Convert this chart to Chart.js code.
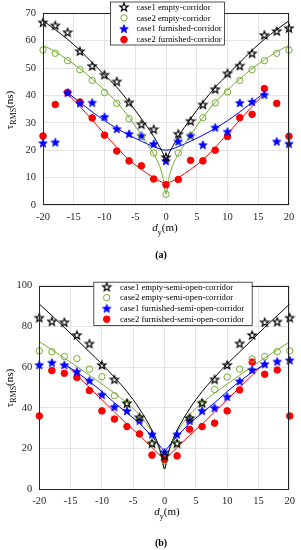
<!DOCTYPE html>
<html>
<head>
<meta charset="utf-8">
<script src="https://cdn.jsdelivr.net/npm/chart.js@4.4.1/dist/chart.umd.min.js"></script>
<style>
  html, body { margin: 0; padding: 0; background: #fff; }
  #wrap { position: relative; width: 301px; height: 550px; }
  canvas { position: absolute; left: 0; }
  #chartA { top: 0; }
  #chartB { top: 270px; }
</style>
</head>
<body>
<div id="wrap">
  <canvas id="chartA" width="301" height="270"></canvas>
  <canvas id="chartB" width="301" height="280"></canvas>
</div>
<script>
// measurement positions (m)
const dy = [-20, -18, -16, -14, -12, -10, -8, -6, -4, -2, 0, 2, 4, 6, 8, 10, 12, 14, 16, 18, 20];
const fitWide  = [-20, -18, -16, -14, -12, -10, -8, -6, -4, -2, -1, -0.5, 0, 0.5, 1, 2, 4, 6, 8, 10, 12, 14, 16, 18, 20];
const fitShort = [-16, -14, -12, -10, -8, -6, -4, -2, 0, 2, 4, 6, 8, 10, 12, 14, 16];

const xTicks  = [-20, -15, -10, -5, 0, 5, 10, 15, 20];
const yTicksA = [0, 10, 20, 30, 40, 50, 60, 70];
const yTicksB = [0, 20, 40, 60, 80, 100];

const labelsA = ['case1 empty-corridor', 'case2 empty-corridor', 'case1 furnished-corridor', 'case2 furnished-corridor'];
const labelsB = ['case1 empty-semi-open-corridor', 'case2 empty-semi-open-corridor', 'case1 furnished-semi-open-corridor', 'case2 furnished-semi-open-corridor'];

// (a) corridor, measured tau_RMS (ns)
const aEmpty1 = [66.7, 65.6, 63.1, 56.2, 50.8, 47.6, 45.1, 37.5, 29.5, 27.7, 17.5, 26.0, 30.7, 36.7, 42.3, 48.1, 50.9, 55.4, 62.1, 63.5, 64.6];
const aEmpty2 = [56.6, 55.4, 52.7, 49.4, 45.5, 41.1, 37.1, 31.5, 25.1, 19.0, 3.9, 19.0, 25.3, 31.9, 37.3, 41.3, 45.5, 49.4, 52.7, 55.4, 56.6];
const aFurn1  = [22.6, 22.9, 41.0, 37.2, 37.4, 32.2, 27.8, 26.0, 25.3, 22.3, 16.1, 23.2, 25.3, 22.0, 28.3, 26.8, 37.3, 37.7, 40.3, 23.2, 22.4];
const aFurn2  = [25.2, 36.7, 41.1, 37.6, 31.8, 25.5, 19.7, 16.1, 14.3, 9.5, 7.4, 9.3, 16.3, 16.1, 20.0, 25.0, 31.9, 33.1, 42.5, 37.1, 25.1];
// (a) fitted curves
const aFitEmpty1 = [67.3, 64, 60.5, 56.5, 52, 47.5, 43, 37.5, 31.5, 25, 21, 19, 16.5, 19, 21, 25, 31.5, 37.5, 43, 47.5, 52, 56.5, 60.5, 64, 67.3];
const aFitEmpty2 = [58.3, 56, 53, 49.8, 46, 42, 37.5, 32, 25.5, 18.5, 14, 10, 4, 10, 14, 18.5, 25.5, 32, 37.5, 42, 46, 49.8, 53, 56, 58.3];
const aFitFurn1  = [41, 37.5, 34, 30.8, 28, 25.5, 23.3, 21.3, 20, 21.3, 23.3, 25.5, 28, 30.8, 34, 37.5, 41];
const aFitFurn2  = [40.5, 36, 31, 26, 21, 16.5, 13, 10, 8, 10, 13, 16.5, 21, 26, 31, 36, 40.5];

// (b) semi-open corridor, measured tau_RMS (ns)
const bEmpty1 = [84.3, 82.5, 82.1, 75.8, 71.6, 61.1, 54.0, 42.3, 35.4, 22.6, 16.5, 22.6, 35.0, 42.5, 54.0, 61.1, 71.7, 75.8, 82.1, 82.4, 84.3];
const bEmpty2 = [68.0, 67.6, 65.2, 64.2, 59.0, 55.3, 46.0, 42.5, 35.0, 22.6, 14.0, 22.6, 35.0, 42.5, 49.0, 55.2, 59.0, 64.0, 65.2, 67.6, 68.0];
const bFurn1  = [61.1, 62.2, 61.1, 57.8, 53.4, 46.5, 40.5, 38.5, 33.7, 27.0, 18.2, 27.0, 33.7, 38.6, 40.0, 45.5, 53.1, 58.6, 61.5, 62.8, 63.4];
const bFurn2  = [36.0, 58.3, 57.0, 54.9, 48.5, 38.5, 34.5, 30.8, 27.2, 16.8, 14.7, 16.4, 29.5, 30.8, 32.5, 38.5, 48.8, 62.5, 56.5, 58.6, 36.0];
// (b) fitted curves
const bFitEmpty1 = [91, 85.3, 79.5, 73.5, 67.5, 61.5, 55, 48, 39.5, 29, 22, 17, 10, 17, 22, 29, 39.5, 48, 55, 61.5, 67.5, 73.5, 79.5, 85.3, 91];
const bFitEmpty2 = [72.5, 68.5, 64.5, 60.3, 56, 51.7, 47.2, 42.5, 36.5, 28, 21, 16, 10, 16, 21, 28, 36.5, 42.5, 47.2, 51.7, 56, 60.3, 64.5, 68.5, 72.5];
const bFitFurn1  = [61.5, 57.5, 53, 48, 42.5, 37.5, 32.5, 26, 18.5, 26, 32.5, 37.5, 42.5, 48, 53, 57.5, 61.5];
const bFitFurn2  = [62, 56, 50, 44, 38, 32, 26.5, 20.5, 14.5, 20.5, 26.5, 32, 38, 44, 50, 56, 62];

const GREEN = '#77ac30';
const FONT = 'Liberation Serif';
const gridColor = '#e4e4e4';
const axisColor = '#262626';

function pts(xs, ys) {
    return xs.map((x, i) => ({ x: x, y: ys[i] }));
}

// pentagram marker as a small canvas
function starImg(color, filled, R) {
    const s = 12;
    const c = document.createElement('canvas');
    c.width = s; c.height = s;
    const g = c.getContext('2d');
    const cx = s / 2, cy = s / 2 + 0.4, r = R * 0.42;
    g.beginPath();
    for (let i = 0; i < 10; i++) {
        const a = -Math.PI / 2 + i * Math.PI / 5;
        const rr = i % 2 ? r : R;
        g.lineTo(cx + rr * Math.cos(a), cy + rr * Math.sin(a));
    }
    g.closePath();
    if (filled) { g.fillStyle = color; g.fill(); }
    g.strokeStyle = color;
    g.lineWidth = filled ? 0.8 : 1.2;
    g.stroke();
    return c;
}
const starBlack = starImg('#000', false, 4.3);
const starBlue  = starImg('#0000ff', true, 4.5);

const markerStyles = [
    { pointStyle: starBlack, pointRadius: 6, pointBorderColor: '#000', pointBackgroundColor: '#000', pointBorderWidth: 1 },
    { pointStyle: 'circle', pointRadius: 3.2, pointBorderColor: GREEN, pointBackgroundColor: 'rgba(0,0,0,0)', pointBorderWidth: 1 },
    { pointStyle: starBlue, pointRadius: 6, pointBorderColor: '#0000ff', pointBackgroundColor: '#0000ff', pointBorderWidth: 1 },
    { pointStyle: 'circle', pointRadius: 3.3, pointBorderColor: '#ff0000', pointBackgroundColor: '#ff0000', pointBorderWidth: 1 }
];
const lineColors = ['#000', GREEN, '#0000ff', '#ff0000'];

function drawParts(ctx, parts, x, y) {
    let w = 0;
    parts.forEach(p => { ctx.font = p.font; w += ctx.measureText(p.t).width; });
    let cx = x - w / 2;
    parts.forEach(p => {
        ctx.font = p.font;
        ctx.fillText(p.t, cx, y + (p.dy || 0));
        cx += ctx.measureText(p.t).width;
    });
}

const decor = {
    id: 'decor',
    afterDraw(chart, args, o) {
        const ctx = chart.ctx;
        const a = chart.chartArea;
        ctx.save();
        // axes box
        ctx.strokeStyle = axisColor;
        ctx.lineWidth = 1;
        ctx.strokeRect(Math.round(a.left) + 0.5, Math.round(a.top) + 0.5,
            Math.round(a.right - a.left) - 1, Math.round(a.bottom - a.top) - 1);

        // legend box
        const L = o.legend;
        ctx.fillStyle = '#fff';
        ctx.fillRect(L.x, L.y, L.w, L.h);
        ctx.strokeStyle = axisColor;
        ctx.lineWidth = 0.8;
        ctx.strokeRect(L.x + 0.5, L.y + 0.5, L.w, L.h);
        ctx.textBaseline = 'middle';
        ctx.textAlign = 'left';
        o.labels.forEach((t, i) => {
            const y = L.row0 + i * L.step;
            const m = markerStyles[i];
            if (m.pointStyle === 'circle') {
                ctx.beginPath();
                ctx.arc(L.mx, y, m.pointRadius, 0, Math.PI * 2);
                if (i === 3) { ctx.fillStyle = m.pointBackgroundColor; ctx.fill(); }
                ctx.strokeStyle = m.pointBorderColor;
                ctx.lineWidth = 1;
                ctx.stroke();
            } else {
                ctx.drawImage(m.pointStyle, L.mx - 6, y - 6);
            }
            ctx.fillStyle = '#000';
            ctx.font = '8.7px ' + FONT;
            ctx.fillText(t, L.tx, y + 0.5);
        });

        // axis titles
        ctx.fillStyle = '#000';
        ctx.textBaseline = 'alphabetic';
        drawParts(ctx, [
            { t: 'd', font: 'italic 11px ' + FONT },
            { t: 'y', font: '8px ' + FONT, dy: 4 },
            { t: '(m)', font: '11px ' + FONT }
        ], o.xTitle.x, o.xTitle.y);

        ctx.save();
        ctx.translate(o.yTitle.x, o.yTitle.y);
        ctx.rotate(-Math.PI / 2);
        drawParts(ctx, [
            { t: '\u03c4', font: '11px ' + FONT },
            { t: 'RMS', font: '8px ' + FONT, dy: 3 },
            { t: '(ns)', font: '11px ' + FONT }
        ], 0, 0);
        ctx.restore();

        // caption
        ctx.textAlign = 'center';
        ctx.font = 'bold 10px ' + FONT;
        ctx.fillText(o.caption.t, o.caption.x, o.caption.y);
        ctx.restore();
    }
};

function makeChart(id, c) {
    const ctx = document.getElementById(id).getContext('2d');
    const series = [c.empty1, c.empty2, c.furn1, c.furn2];
    const fits = [c.fitEmpty1, c.fitEmpty2, c.fitFurn1, c.fitFurn2];
    const fitXs = [fitWide, fitWide, fitShort, fitShort];

    const datasets = [];
    series.forEach((s, i) => {
        datasets.push(Object.assign({
            label: c.labels[i],
            data: pts(dy, s),
            showLine: false,
            clip: false,
            order: 0
        }, markerStyles[i]));
    });
    fits.forEach((f, i) => {
        datasets.push({
            data: pts(fitXs[i], f),
            borderColor: lineColors[i],
            borderWidth: 1,
            pointRadius: 0,
            fill: false,
            cubicInterpolationMode: c.straight && i >= 2 ? 'default' : 'monotone',
            tension: 0,
            order: 1
        });
    });

    return new Chart(ctx, {
        type: 'line',
        data: { datasets: datasets },
        options: {
            responsive: false,
            animation: false,
            devicePixelRatio: 1,
            layout: { padding: { top: c.top, right: c.right, left: 0, bottom: 0 } },
            plugins: {
                legend: { display: false },
                tooltip: { enabled: false },
                decor: c.decor
            },
            scales: {
                x: {
                    type: 'linear',
                    min: -20, max: 20,
                    afterBuildTicks: s => { s.ticks = xTicks.map(v => ({ value: v })); },
                    afterFit: s => { s.height = c.bottomH; },
                    grid: { color: gridColor, drawTicks: false },
                    border: { display: false },
                    ticks: {
                        padding: 6, autoSkip: false, maxRotation: 0,
                        color: axisColor,
                        font: { family: FONT, size: 10.5 }
                    }
                },
                y: {
                    min: 0, max: c.yMax,
                    afterBuildTicks: s => { s.ticks = c.yTicks.map(v => ({ value: v })); },
                    afterFit: s => { s.width = c.leftW; },
                    grid: { color: gridColor, drawTicks: false },
                    border: { display: false },
                    ticks: {
                        padding: 7,
                        color: axisColor,
                        font: { family: FONT, size: 10.5 }
                    }
                }
            }
        },
        plugins: [decor]
    });
}

makeChart('chartA', {
    labels: labelsA,
    empty1: aEmpty1, empty2: aEmpty2, furn1: aFurn1, furn2: aFurn2,
    fitEmpty1: aFitEmpty1, fitEmpty2: aFitEmpty2, fitFurn1: aFitFurn1, fitFurn2: aFitFurn2,
    yMax: 70, yTicks: yTicksA,
    top: 9, right: 12, leftW: 43, bottomH: 65,
    decor: {
        labels: labelsA,
        legend: { x: 110, y: 1.5, w: 114, h: 43, row0: 6.9, step: 10.9, mx: 124, tx: 136.5 },
        xTitle: { x: 165, y: 231 },
        yTitle: { x: 13, y: 110 },
        caption: { t: '(a)', x: 161, y: 258 }
    }
});

makeChart('chartB', {
    labels: labelsB,
    empty1: bEmpty1, empty2: bEmpty2, furn1: bFurn1, furn2: bFurn2,
    fitEmpty1: bFitEmpty1, fitEmpty2: bFitEmpty2, fitFurn1: bFitFurn1, fitFurn2: bFitFurn2,
    straight: true,
    yMax: 100, yTicks: yTicksB,
    top: 15.7, right: 7.7, leftW: 39.3, bottomH: 60.7,
    decor: {
        labels: labelsB,
        legend: { x: 93.3, y: 11.7, w: 158.4, h: 43.3, row0: 16.8, step: 10.8, mx: 106.7, tx: 120 },
        xTitle: { x: 167, y: 245 },
        yTitle: { x: 13, y: 118 },
        caption: { t: '(b)', x: 161, y: 276 }
    }
});
</script>
</body>
</html>
